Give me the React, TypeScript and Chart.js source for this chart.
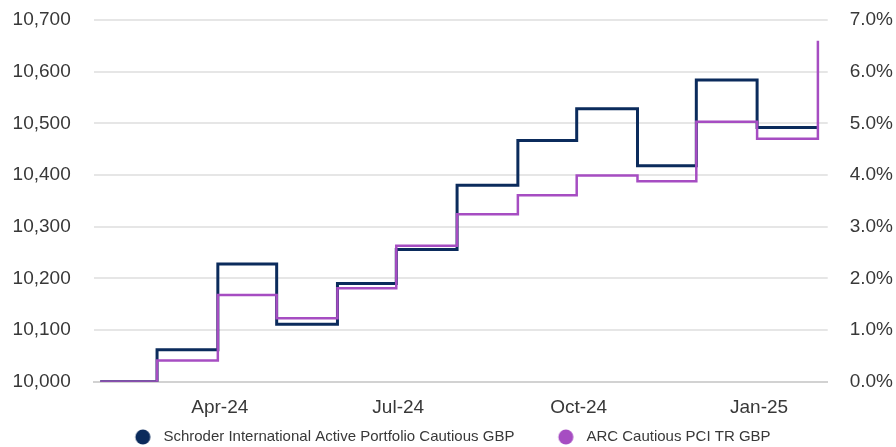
import React, { useEffect, useRef } from 'react';
import { Chart, registerables } from 'chart.js';

Chart.register(...registerables);

// ---- data ----
const dates = [
  '2024-01-31', '2024-02-29', '2024-03-31', '2024-04-30', '2024-05-31', '2024-06-30',
  '2024-07-31', '2024-08-31', '2024-09-30', '2024-10-31', '2024-11-30', '2024-12-31', '2025-01-31',
];
const schroderValues = [10000, 10062, 10228, 10111, 10190, 10256, 10380, 10467, 10528, 10418, 10584, 10492, 10492];
const arcValues = [10000, 10041, 10168, 10123, 10181, 10263, 10324, 10361, 10399, 10388, 10503, 10470, 10660];
const seriesNames = ['Schroder International Active Portfolio Cautious GBP', 'ARC Cautious PCI TR GBP'];
const seriesColors = ['#0b2b5c', '#a64dc2'];
const xTickDates = ['2024-04-01', '2024-07-01', '2024-10-01', '2025-01-01'];
const xTickLabels = ['Apr-24', 'Jul-24', 'Oct-24', 'Jan-25'];
const xRange = ['2024-01-28', '2025-02-05'];
const leftRange = [10000, 10700, 100];
const rightRange = [0, 7, 1];

const DAY = 86400000;
const toDay = (s: string) => Date.parse(s + 'T00:00:00Z') / DAY;

const FONT = '"Liberation Sans", Arial, sans-serif';
const TEXT = '#383838';

function makeDot(color: string) {
  const c = document.createElement('canvas');
  c.width = 46;
  c.height = 16;
  const ctx = c.getContext('2d')!;
  ctx.fillStyle = color;
  ctx.beginPath();
  ctx.arc(23 + 14.2, 8, 7.5, 0, Math.PI * 2);
  ctx.fill();
  return c;
}

export default function App() {
  const ref = useRef<HTMLCanvasElement | null>(null);

  useEffect(() => {
    if (!ref.current) return;
    const dots = seriesColors.map(makeDot);
    const xs = dates.map(toDay);
    const tickDays = xTickDates.map(toDay);

    const chart = new Chart(ref.current, {
      type: 'line',
      data: {
        datasets: [
          {
            label: seriesNames[0],
            data: xs.map((x, i) => ({ x, y: schroderValues[i] })),
            borderColor: seriesColors[0],
            backgroundColor: seriesColors[0],
            borderWidth: 3,
            pointRadius: 0,
            stepped: true,
            order: 1,
            yAxisID: 'y',
          },
          {
            label: seriesNames[1],
            data: xs.map((x, i) => ({ x, y: arcValues[i] })),
            borderColor: seriesColors[1],
            backgroundColor: seriesColors[1],
            borderWidth: 2.5,
            pointRadius: 0,
            stepped: true,
            order: 0,
            yAxisID: 'y',
          },
        ],
      },
      options: {
        animation: false,
        responsive: true,
        maintainAspectRatio: false,
        layout: { padding: { left: -24, right: 0, top: 20, bottom: 0 } },
        scales: {
          x: {
            type: 'linear',
            min: toDay(xRange[0]),
            max: toDay(xRange[1]),
            afterBuildTicks: (axis: any) => {
              axis.ticks = tickDays.map((value) => ({ value }));
            },
            afterFit: (s: any) => {
              s.height = 37.8;
            },
            ticks: {
              autoSkip: false,
              maxRotation: 0,
              padding: 3,
              color: TEXT,
              font: { family: FONT, size: 19 },
              callback: (v: any) => {
                const i = tickDays.indexOf(v);
                return i >= 0 ? xTickLabels[i] : '';
              },
            },
            grid: { display: true, drawOnChartArea: false, drawTicks: true, tickLength: 11.6, tickColor: 'transparent' },
            border: { display: true, color: '#d2d2d2', width: 2 },
          },
          y: {
            position: 'left',
            min: leftRange[0],
            max: leftRange[1],
            afterFit: (s: any) => {
              s.width = 118.3;
            },
            ticks: {
              stepSize: leftRange[2],
              padding: 3,
              color: TEXT,
              font: { family: FONT, size: 19 },
              callback: (v: any) => Number(v).toLocaleString('en-US'),
            },
            grid: { color: '#e6e6e6', lineWidth: 2, drawTicks: true, tickLength: 20.6, tickColor: 'transparent' },
            border: { display: false },
          },
          y2: {
            position: 'right',
            min: rightRange[0],
            max: rightRange[1],
            afterFit: (s: any) => {
              s.width = 68.3;
            },
            ticks: {
              stepSize: rightRange[2],
              padding: 3,
              color: TEXT,
              font: { family: FONT, size: 19 },
              callback: (v: any) => Number(v).toFixed(1) + '%',
            },
            grid: { drawOnChartArea: false, drawTicks: true, tickLength: 19, tickColor: 'transparent' },
            border: { display: false },
          },
        },
        plugins: {
          tooltip: { enabled: false },
          legend: {
            position: 'bottom',
            maxHeight: 27.5,
            labels: {
              usePointStyle: true,
              pointStyleWidth: 54.5,
              boxHeight: 15,
              padding: 10,
              color: TEXT,
              font: { family: FONT, size: 15 },
              sort: (a: any, b: any) => a.datasetIndex - b.datasetIndex,
              generateLabels: (c: any) =>
                Chart.defaults.plugins.legend.labels.generateLabels(c).map((l: any) => ({
                  ...l,
                  pointStyle: dots[l.datasetIndex],
                })),
            },
          },
        },
      },
    });
    return () => chart.destroy();
  }, []);

  return (
    <div style={{ position: 'absolute', left: 0, top: 0, width: 896, height: 447 }}>
      <canvas ref={ref} />
    </div>
  );
}
